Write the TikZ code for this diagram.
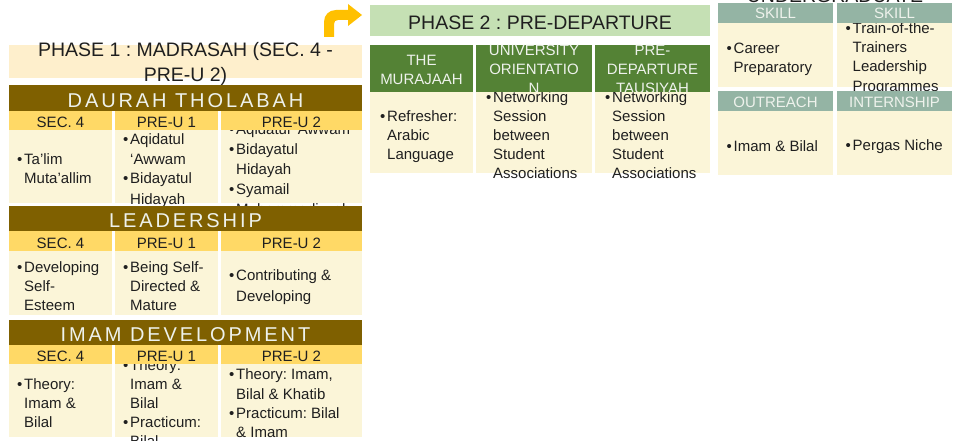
\documentclass[tikz,border=0pt]{standalone}
\usepackage{fontspec}
\setmainfont{Liberation Sans}
\definecolor{barbrown}{HTML}{7F6000}
\definecolor{hdryellow}{HTML}{FFD966}
\definecolor{bodycream}{HTML}{FBF5D8}
\definecolor{titlecream}{HTML}{FEEFCC}
\definecolor{titlegreen}{HTML}{C5E0B4}
\definecolor{hdrgreen}{HTML}{548235}
\definecolor{hdrsage}{HTML}{94B4A4}
\definecolor{arrowgold}{HTML}{FFC000}
\definecolor{darktext}{HTML}{1F1F1F}
\definecolor{lighttext}{HTML}{EEF2EC}
\frenchspacing
\newcommand{\st}{\rule[-3pt]{0pt}{19pt}}
\newcommand{\tst}{\rule[-3.5pt]{0pt}{23pt}}
\newcommand{\bl}[1]{\par{\let\\\newline\hangindent=7pt\hangafter=1\noindent\makebox[7pt][l]{\textbullet}\st#1\st\par}}
\begin{document}
\begin{tikzpicture}[x=1pt,y=-1pt,
    bodytxt/.style={anchor=west,align=flush left,text width=140pt,inner sep=0pt,text=darktext,font=\fontsize{15}{19}\selectfont},
    hdrtxt/.style={anchor=base,inner sep=0pt,text=darktext,font=\fontsize{15}{19}\selectfont},
    lighthdr/.style={hdrtxt,text=lighttext},
    gtxt/.style={align=flush center,text width=112pt,inner sep=0pt,text=lighttext,font=\fontsize{15}{19}\selectfont},
    bartxt/.style={anchor=base,inner sep=0pt,text=lighttext,font=\fontsize{20}{24}\selectfont\addfontfeature{LetterSpace=14.5}},
    ttltxt/.style={inner sep=0pt,text=darktext,font=\fontsize{19.5}{23}\selectfont}]
  \useasboundingbox (0,0) rectangle (958,441);
  \clip (0,0) rectangle (958,441);

  \fill[arrowgold] (324,37) -- (324,22) .. controls (324,15) and (329,10) .. (336,10) -- (348,10) -- (348,4) -- (362,15) -- (348,26) -- (348,20) -- (338,20) .. controls (335.5,20) and (334,21.5) .. (334,24) -- (334,37) -- cycle;

  \fill[titlecream] (9,45) rectangle (362,78);
  \node[ttltxt,align=flush center,text width=360pt] (phaseone) at (185.5,61.5) {\tst PHASE 1 : MADRASAH (SEC. 4 -\\PRE-U 2)\tst};

  \foreach \a/\b in {9/112,115/218,221/362} \fill[bodycream] (\a,130) rectangle (\b,203);
  \node[bodytxt] (dsec) at (17,166.5) {\bl{Ta’lim\\Muta’allim}};
  \node[bodytxt] (dpreone) at (123,166.5) {\bl{Aqidatul\\‘Awwam}\bl{Bidayatul\\Hidayah}};
  \node[bodytxt] (dpretwo) at (229,166.5) {\bl{Aqidatul ‘Awwam}\bl{Bidayatul\\Hidayah}\bl{Syamail\\Muhammadiyyah}};
  \foreach \a/\b in {9/112,115/218,221/362} \fill[hdryellow] (\a,111) rectangle (\b,130);
  \node[hdrtxt] (dsech) at (60.5,127.5) {SEC. 4};
  \node[hdrtxt] (dpreoneh) at (166.5,127.5) {PRE-U 1};
  \node[hdrtxt] (dpretwoh) at (291.5,127.5) {PRE-U 2};
  \fill[barbrown] (9,85) rectangle (362,111);
  \node[bartxt] (daurah) at (185.5,107.5) {DAURAH THOLABAH};

  \foreach \a/\b in {9/112,115/218,221/362} \fill[bodycream] (\a,251) rectangle (\b,315);
  \node[bodytxt] (lsec) at (17,283) {\bl{Developing\\Self-\\Esteem}};
  \node[bodytxt] (lpreone) at (123,283) {\bl{Being Self-\\Directed \&\\Mature}};
  \node[bodytxt] (lpretwo) at (229,283) {\bl{Contributing \&\\Developing}};
  \foreach \a/\b in {9/112,115/218,221/362} \fill[hdryellow] (\a,231) rectangle (\b,251);
  \node[hdrtxt] (lsech) at (60.5,248.5) {SEC. 4};
  \node[hdrtxt] (lpreoneh) at (166.5,248.5) {PRE-U 1};
  \node[hdrtxt] (lpretwoh) at (291.5,248.5) {PRE-U 2};
  \fill[barbrown] (9,206) rectangle (362,231);
  \node[bartxt] (leadership) at (185.5,227.5) {LEADERSHIP};

  \foreach \a/\b in {9/112,115/218,221/362} \fill[bodycream] (\a,364) rectangle (\b,437);
  \node[bodytxt] (isec) at (17,400.5) {\bl{Theory:\\Imam \&\\Bilal}};
  \node[bodytxt] (ipreone) at (123,400.5) {\bl{Theory:\\Imam \&\\Bilal}\bl{Practicum:\\Bilal}};
  \node[bodytxt] (ipretwo) at (229,400.5) {\bl{Theory: Imam,\\Bilal \& Khatib}\bl{Practicum: Bilal\\\& Imam}};
  \foreach \a/\b in {9/112,115/218,221/362} \fill[hdryellow] (\a,345) rectangle (\b,364);
  \node[hdrtxt] (isech) at (60.5,361.5) {SEC. 4};
  \node[hdrtxt] (ipreoneh) at (166.5,361.5) {PRE-U 1};
  \node[hdrtxt] (ipretwoh) at (291.5,361.5) {PRE-U 2};
  \fill[barbrown] (9,320) rectangle (362,345);
  \node[bartxt] (imam) at (185.5,341.5) {IMAM DEVELOPMENT};

  \fill[titlegreen] (370,5) rectangle (710,36);
  \node[ttltxt,anchor=base] (phasetwo) at (540,30) {PHASE 2 : PRE-DEPARTURE};
  \foreach \a/\b in {370/473,476/592,595/710} \fill[bodycream] (\a,92) rectangle (\b,173);
  \node[bodytxt] (murajaah) at (380,132.5) {\bl{Refresher:\\Arabic\\Language}};
  \node[bodytxt] (orientation) at (486,132.5) {\bl{Networking\\Session\\between\\Student\\Associations}};
  \node[bodytxt] (tausiyah) at (605,132.5) {\bl{Networking\\Session\\between\\Student\\Associations}};
  \foreach \a/\b in {370/473,476/592,595/710} \fill[hdrgreen] (\a,45) rectangle (\b,92);
  \begin{scope}
    \clip (370,45) rectangle (710,92);
    \node[gtxt] (murajaahh) at (421.5,68.5) {\st THE\\MURAJAAH\st};
    \node[gtxt] (orientationh) at (534,68.5) {\st UNIVERSITY\\ORIENTATIO\\N\st};
    \node[gtxt] (tausiyahh) at (652.5,68.5) {\st PRE-\\DEPARTURE\\TAUSIYAH\st};
  \end{scope}

  \node[ttltxt,anchor=base] (undergrad) at (835,2.5) {UNDERGRADUATE};
  \foreach \a/\b in {718/833,837/952} \fill[bodycream] (\a,23) rectangle (\b,87);
  \node[bodytxt] (career) at (726.5,55) {\bl{Career\\Preparatory}};
  \node[bodytxt] (trainers) at (845.5,55) {\bl{Train-of-the-\\Trainers\\Leadership\\Programmes}};
  \foreach \a/\b in {718/833,837/952} \fill[hdrsage] (\a,3) rectangle (\b,23);
  \node[lighthdr] (skillone) at (775.5,19) {SKILL};
  \node[lighthdr] (skilltwo) at (894.5,19) {SKILL};
  \foreach \a/\b in {718/833,837/952} \fill[bodycream] (\a,111) rectangle (\b,175);
  \node[bodytxt] (outreach) at (726.5,143) {\bl{Imam \& Bilal}};
  \node[bodytxt] (internship) at (845.5,143) {\bl{Pergas Niche}};
  \foreach \a/\b in {718/833,837/952} \fill[hdrsage] (\a,91) rectangle (\b,111);
  \node[lighthdr] (outreachh) at (775.5,107.5) {OUTREACH};
  \node[lighthdr] (internshiph) at (894.5,107.5) {INTERNSHIP};
\end{tikzpicture}
\end{document}
